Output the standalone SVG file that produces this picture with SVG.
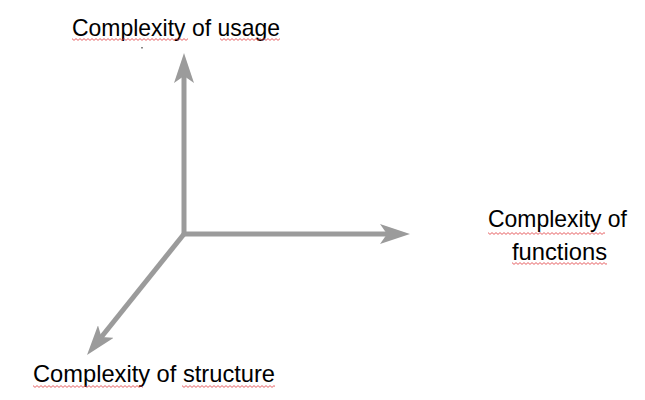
<svg xmlns="http://www.w3.org/2000/svg" width="645" height="400" viewBox="0 0 645 400">
<style>
.lbl{font-family:"Liberation Sans",Arial,sans-serif;font-size:24px;fill:#000}
.axis{stroke:#9b9b9b;stroke-width:5;fill:none}
.sq{fill:url(#wave)}
</style>
<defs>
<marker id="ah" markerUnits="userSpaceOnUse" viewBox="0 0 30 20" markerWidth="30" markerHeight="20" refX="7" refY="10" orient="auto">
<path d="M0,0 L30,10 L0,20 L7,10 Z" fill="#9b9b9b"/>
</marker>
<pattern id="wave" patternUnits="userSpaceOnUse" width="4" height="3">
<path d="M0,0.6 L2,2.4 L4,0.6" fill="none" stroke="#e0383b" stroke-width="0.8"/>
</pattern>
</defs>
<rect width="645" height="400" fill="#fff"/>
<g id="connectors">
<line class="axis" x1="184" y1="236" x2="184" y2="76" marker-end="url(#ah)"/>
<line class="axis" x1="182" y1="234" x2="387" y2="234" marker-end="url(#ah)"/>
<line class="axis" x1="184" y1="234" x2="101.4" y2="337" marker-end="url(#ah)"/>
<rect x="141" y="47" width="2" height="1.5" fill="#888"/>
</g>
<g id="usage">
<text class="lbl" x="72" y="36" textLength="208" lengthAdjust="spacingAndGlyphs">Complexity of usage</text>
<rect class="sq" transform="translate(72,38)" width="116" height="3"/>
<rect class="sq" transform="translate(220,38)" width="60" height="3"/>
</g>
<g id="functions">
<text class="lbl" x="488" y="227" textLength="139" lengthAdjust="spacingAndGlyphs">Complexity of</text>
<text class="lbl" x="512" y="260" textLength="95" lengthAdjust="spacingAndGlyphs">functions</text>
<rect class="sq" transform="translate(488,232)" width="117" height="3"/>
<rect class="sq" transform="translate(512,262)" width="95" height="3"/>
</g>
<g id="structure">
<text class="lbl" x="33" y="382" textLength="242" lengthAdjust="spacingAndGlyphs">Complexity of structure</text>
<rect class="sq" transform="translate(33,385)" width="110" height="3"/>
<rect class="sq" transform="translate(182,385)" width="93" height="3"/>
</g>
</svg>
